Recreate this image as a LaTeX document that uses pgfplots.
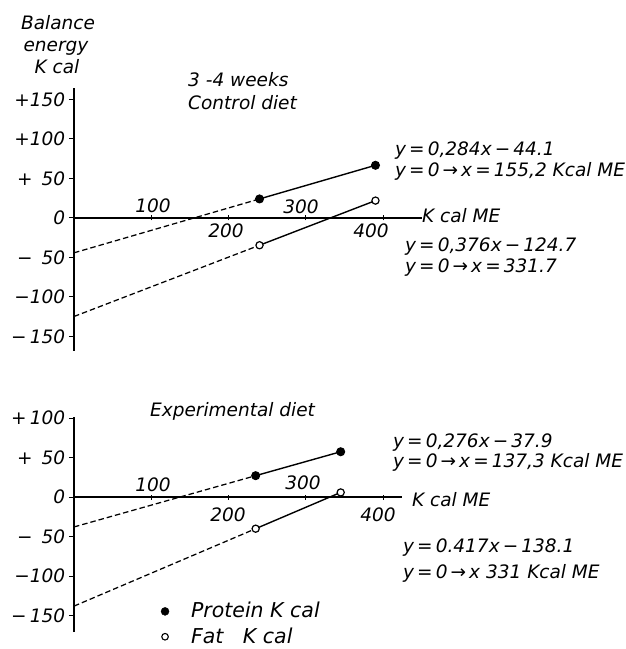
\documentclass[border=0pt]{standalone}
\usepackage{fontspec}
\setmainfont{DejaVu Sans}
\usepackage{pgfplots}
\pgfplotsset{compat=1.18}
\newcommand{\lbl}{\fontsize{18.5}{22}\selectfont\itshape}
\newcommand{\lgd}{\fontsize{20.5}{24}\selectfont\itshape}
\newcommand{\ip}[2]{(#1pt,649pt-#2pt)}
\begin{document}
\lbl
\begin{tikzpicture}[font=\lbl,
  t/.style={anchor=base west, inner sep=0pt},
  c/.style={anchor=base, inner sep=0pt}]
\useasboundingbox (0,0) rectangle (626pt,649pt);
\pgfplotsset{
  panel/.style={
    x=0.773pt, y=0.79pt, xmin=0, enlargelimits=false, clip=false,
    axis x line*=middle, axis y line*=left,
    axis line style={line width=1.3pt},
    xtick={100,200,300,400}, xticklabels={},
    tick align=center, major tick length=5pt,
    every tick/.style={black, line width=1pt},
    ytick style={xshift=-2.5pt},
    yticklabel style={font=\lbl},
    hide obscured x ticks=false, hide obscured y ticks=false,
    anchor=south west,
  },
  dsh/.style={black, line width=1.25pt, dash pattern=on 5.5pt off 3pt},
  solp/.style={black, line width=1.4pt, mark=*, mark size=3.8pt, mark options={solid, fill=black}},
  solf/.style={black, line width=1.4pt, mark=*, mark size=3.6pt, mark options={solid, fill=white, line width=1.2pt}},
}
% ---------- top panel: 3-4 weeks, control diet ----------
\begin{axis}[panel, at={(74pt,298.3pt)}, xmax=450, ymin=-168, ymax=164,
  ytick={-150,-100,-50,0,50,100,150},
  yticklabels={−\,150,−100,−\ \,50,0,+\ \,50,+100,+150}]
\addplot[dsh, forget plot] coordinates {(0,-44.1) (240,24.1)};
\addplot[dsh, forget plot] coordinates {(0,-124.7) (240,-34.5)};
\addplot[solp, forget plot] coordinates {(240,24.1) (390,66.7)};
\addplot[solf, forget plot] coordinates {(240,-34.5) (390,22.0)};
\end{axis}
% ---------- bottom panel: experimental diet ----------
\begin{axis}[panel, at={(74pt,16.9pt)}, xmax=424, ymin=-171, ymax=101,
  ytick={-150,-100,-50,0,50,100},
  yticklabels={−\,150,−100,−\ \,50,0,+\ \,50,+\,100},
  legend style={at={(0.265,0.147)}, anchor=north west, draw=none, fill=none,
    font=\lgd, row sep=4pt, legend cell align=left, inner sep=0pt,
    nodes={inner ysep=1.5pt},
    /tikz/every odd column/.append style={column sep=20pt}}]
\addplot[dsh, forget plot] coordinates {(0,-37.9) (235,27.0)};
\addplot[dsh, forget plot] coordinates {(0,-138.1) (235,-40.1)};
\addplot[solp, forget plot] coordinates {(235,27.0) (345,57.3)};
\addplot[solf, forget plot] coordinates {(235,-40.1) (345,5.8)};
\addlegendimage{only marks, mark=*, mark size=4pt, black, fill=black}
\addlegendentry{Protein K cal}
\addlegendimage{only marks, mark=*, mark size=3.3pt, black, fill=white, mark options={line width=1.1pt}}
\addlegendentry{Fat\ \ \ K cal}
\end{axis}
% ---------- texts ----------
\node[c] at \ip{58}{30} {Balance};
\node[c] at \ip{56}{51.7} {energy};
\node[c] at \ip{57}{74} {K cal};
\node[t] at \ip{188}{86.7} {3 -4 weeks};
\node[t] at \ip{188}{110} {Control diet};
% x tick labels, top
\node[c] at \ip{153}{213} {100};
\node[c] at \ip{226}{238} {200};
\node[c] at \ip{301}{214} {300};
\node[c] at \ip{371}{238} {400};
% x tick labels, bottom
\node[c] at \ip{153}{492} {100};
\node[c] at \ip{228}{522} {200};
\node[c] at \ip{303}{490} {300};
\node[c] at \ip{378}{522} {400};
% axis names
\node[t] at \ip{422}{223} {K cal ME};
\node[t] at \ip{412}{507} {K cal ME};
% equations top
\node[t] at \ip{395}{156} {y\,=\,0,284x\,−\,44.1};
\node[t] at \ip{395}{177} {y\,=\,0\,→\,x\,=\,155,2 Kcal ME};
\node[t] at \ip{405}{252} {y\,=\,0,376x\,−\,124.7};
\node[t] at \ip{405}{273} {y\,=\,0\,→\,x\,=\,331.7};
% equations bottom
\node[t] at \ip{150}{417} {Experimental diet};
\node[t] at \ip{393}{448} {y\,=\,0,276x\,−\,37.9};
\node[t] at \ip{393}{468} {y\,=\,0\,→\,x\,=\,137,3 Kcal ME};
\node[t] at \ip{403}{553} {y\,=\,0.417x\,−\,138.1};
\node[t] at \ip{403}{579} {y\,=\,0\,→\,x 331 Kcal ME};
\end{tikzpicture}
\end{document}
